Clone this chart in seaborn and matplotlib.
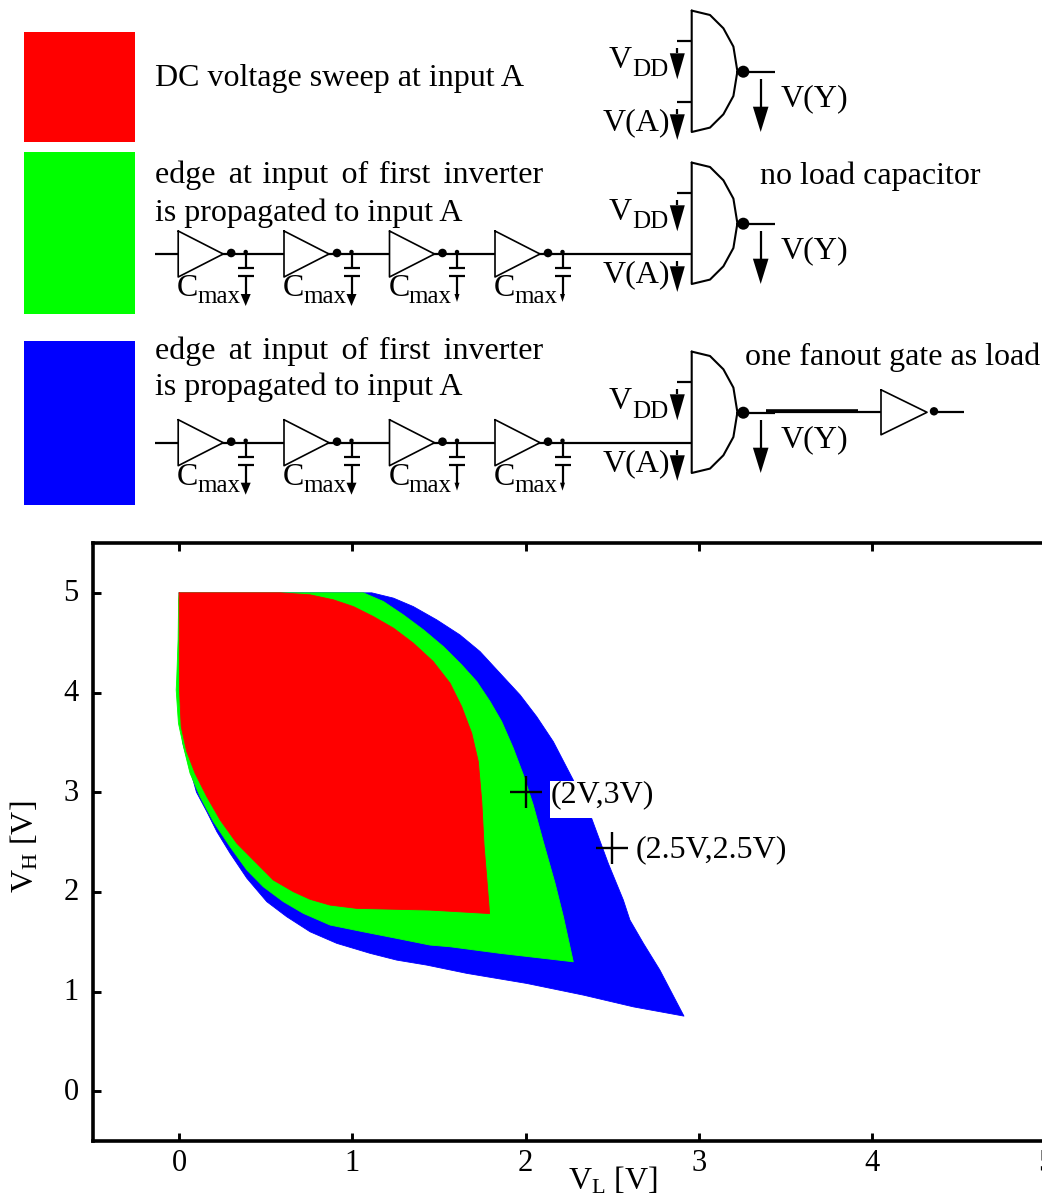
import matplotlib
matplotlib.use("Agg")
import numpy as np
import seaborn as sns
import matplotlib.pyplot as plt
from matplotlib.transforms import ScaledTranslation

# noise margin regions, V_L and V_H in volts, walked round the outline
red_vl = [0.0, 0.30, 0.583, 0.756, 0.89, 1.006, 1.121, 1.237, 1.352, 1.467, 1.564, 1.631, 1.689,
          1.727, 1.747, 1.76, 1.779, 1.792,
          1.448, 1.198, 1.025, 0.871, 0.756, 0.66, 0.544, 0.429, 0.333, 0.237, 0.16, 0.092,
          0.044, 0.012, 0.002]
red_vh = [5.0, 5.0, 5.0, 4.98, 4.93, 4.862, 4.762, 4.646, 4.495, 4.31, 4.093, 3.858, 3.591,
          3.306, 2.905, 2.47, 2.068, 1.782,
          1.817, 1.827, 1.834, 1.867, 1.925, 2.001, 2.118, 2.319, 2.487, 2.721, 2.955, 3.19,
          3.407, 3.658, 4.026]

green_vl = [0.0, 1.063, 1.179, 1.294, 1.41, 1.525, 1.631, 1.718, 1.795, 1.862, 1.929, 1.987, 2.044,
            2.102, 2.17, 2.218, 2.275,
            1.852, 1.564, 1.448, 1.256, 1.063, 0.871, 0.717, 0.602, 0.486, 0.391, 0.294, 0.198,
            0.121, 0.063, 0.025, -0.004, -0.017, -0.014, -0.006, -0.003]
green_vh = [5.0, 5.0, 4.913, 4.779, 4.629, 4.461, 4.277, 4.11, 3.909, 3.708, 3.441, 3.173, 2.871,
            2.503, 2.085, 1.75, 1.298,
            1.383, 1.449, 1.466, 1.533, 1.599, 1.667, 1.784, 1.901, 2.051, 2.219, 2.453, 2.704,
            2.955, 3.19, 3.457, 3.692, 4.026, 4.13, 4.53, 4.93]

blue_vl = [0.0, 1.112, 1.237, 1.352, 1.487, 1.621, 1.737, 1.852, 1.968, 2.064, 2.16, 2.275, 2.381,
           2.477, 2.564, 2.602, 2.68, 2.775, 2.914,
           2.622, 2.333, 2.006, 1.66, 1.429, 1.256, 1.102, 0.91, 0.756, 0.621, 0.506, 0.391,
           0.294, 0.218, 0.16, 0.10, 0.02]
blue_vh = [5.0, 5.0, 4.947, 4.862, 4.729, 4.578, 4.411, 4.194, 3.976, 3.758, 3.507, 3.122, 2.738,
           2.286, 1.918, 1.717, 1.483, 1.215, 0.753,
           0.846, 0.964, 1.081, 1.182, 1.265, 1.315, 1.383, 1.483, 1.599, 1.75, 1.901, 2.136,
           2.387, 2.603, 2.804, 3.0, 3.5]

point_vl = [2.0, 2.5]
point_vh = [3.0, 2.44]
point_labels = ["(2V,3V)", "(2.5V,2.5V)"]
tick_values = [0, 1, 2, 3, 4, 5]

SERIF = "Liberation Serif"
FS = 23
SUB_FS = 18

sns.set_theme(style="ticks", font=SERIF)
plt.rcParams["font.family"] = [SERIF, "DejaVu Serif"]
plt.rcParams["mathtext.fontset"] = "custom"
plt.rcParams["mathtext.rm"] = SERIF
plt.rcParams["mathtext.it"] = SERIF
for key in ["text.color", "axes.labelcolor", "xtick.color", "ytick.color"]:
    plt.rcParams[key] = "black"

W, H = 1042, 1196


def draw_region(ax, vl, vh, color):
    ax.fill(vl, vh, color=color, lw=0, zorder=2)
    sns.lineplot(x=vl + vl[:1], y=vh + vh[:1], sort=False, estimator=None,
                 color=color, lw=0.6, ax=ax, legend=False, zorder=2)


# overlay axes in pixels for the schematic on top of the chart
def line(ax, xs, ys, lw=1.6):
    ax.plot(xs, ys, color="black", lw=lw, solid_capstyle="butt")


def arrow(ax, x, y0, y1, y2, half):
    # stem from y0 to y1, head from y1 to tip y2
    line(ax, [x, x], [y0, y1])
    ax.fill([x - half, x + half, x], [y1, y1, y2], color="black", lw=0)


def dot(ax, x, y, r):
    ax.add_patch(plt.Circle((x, y), r, color="black", lw=0))


def sub_text(ax, x, y, main, sub, sub_dx, sub_dy=8):
    ax.text(x, y, main, fontsize=FS, ha="left", va="baseline")
    ax.text(x + sub_dx, y + sub_dy, sub, fontsize=SUB_FS, ha="left", va="baseline")


def inverter(ax, x, y):
    ax.plot([x, x + 46, x, x], [y - 22.5, y, y + 22.5, y - 22.5], color="black", lw=1.2)
    dot(ax, x + 53, y - 1, 4.2)


def gate(ax, off, input_wire):
    x0 = 691.7
    cy = 71.3 + off
    dx = [0, 18.3, 31.7, 41.7, 45.7, 41.7, 31.7, 18.3, 0, 0]
    dy = [-60.7, -56.3, -43, -24.7, 0, 24.7, 43, 56.3, 60.7, -60.7]
    ax.plot([x0 + d for d in dx], [cy + d for d in dy], color="black", lw=1.5)
    line(ax, [677.3, x0], [40.7 + off, 40.7 + off])
    arrow(ax, 677.3, 48 + off, 53.3 + off, 79.3 + off, 7.5)
    if not input_wire:
        line(ax, [677.3, x0], [101.7 + off, 101.7 + off])
    arrow(ax, 677.3, 109 + off, 114.3 + off, 140 + off, 7.5)
    dot(ax, 743.3, 71.7 + off, 6)
    line(ax, [736, 775], [71.7 + off, 71.7 + off])
    arrow(ax, 760.7, 79.3 + off, 106.7 + off, 132 + off, 7.8)
    ax.text(781, 106 + off, "V(Y)", fontsize=FS, va="baseline")
    sub_text(ax, 609, 68 + off, "V", "DD", 23, 8.5)
    ax.text(603, 130 + off, "V(A)", fontsize=FS, va="baseline")


def chain(ax, wire_y):
    line(ax, [155, 692], [wire_y, wire_y])
    for i, tx in enumerate([178.2, 284, 389.5, 495]):
        ax.fill([tx, tx + 45, tx], [wire_y - 23, wire_y, wire_y + 23], color="white", zorder=3, lw=0)
        ax.plot([tx, tx + 45, tx, tx], [wire_y - 23, wire_y, wire_y + 23, wire_y - 23],
                color="black", lw=1.2, zorder=4)
        dot(ax, tx + 53, wire_y - 1, 4.3)
        cx = tx + 67.5
        dot(ax, cx, wire_y - 2, 2.2)
        line(ax, [cx, cx], [wire_y, wire_y + 14])
        line(ax, [cx - 8, cx + 8], [wire_y + 14, wire_y + 14])
        line(ax, [cx - 8, cx + 8], [wire_y + 22, wire_y + 22])
        if i < 2:
            arrow(ax, cx, wire_y + 22, wire_y + 40, wire_y + 52, 5)
        else:
            arrow(ax, cx, wire_y + 22, wire_y + 40, wire_y + 48, 2.5)
        sub_text(ax, tx - 1, wire_y + 42, "C", "max", 20, 7)


fig = plt.figure(figsize=(W / 100, H / 100), dpi=100)

# chart axes reach past the right edge of the figure, the 5 tick gets cut like the original
ax = fig.add_axes([92.5 / W, (H - 1141) / H, 1039.5 / W, 598 / H])
draw_region(ax, blue_vl, blue_vh, "#0000ff")
draw_region(ax, green_vl, green_vh, "#00ff00")
draw_region(ax, red_vl, red_vh, "#ff0000")

ax.set_xlim(-0.5, 5.5)
ax.set_ylim(-0.5, 5.5)
ax.set_xticks(tick_values)
ax.set_yticks(tick_values)
ax.tick_params(direction="in", top=True, right=True, length=5.5, width=2.1, labelsize=22, pad=5.5)
ax.tick_params(axis="y", pad=10)
for lab in ax.get_yticklabels():
    lab.set_transform(lab.get_transform() + ScaledTranslation(0, 2.5 / 100, fig.dpi_scale_trans))
for s in ax.spines.values():
    s.set_linewidth(2.6)
    s.set_color("black")

ax.set_xlabel(r"V$_{\mathrm{L}}$ [V]", fontsize=FS)
ax.set_ylabel(r"V$_{\mathrm{H}}$ [V]", fontsize=FS)
ax.xaxis.label.set_verticalalignment("baseline")
ax.xaxis.set_label_coords((613 - 92.5) / 1039.5, (1141 - 1190) / 598)
ax.yaxis.set_label_coords((41 - 92.5) / 1039.5, (1141 - 847) / 598)

# white box that hides part of the blue region behind the first label
ax.add_patch(plt.Rectangle((2.141, 2.741), 0.6, 0.371, color="white", lw=0, zorder=4))
sns.scatterplot(x=point_vl, y=point_vh, marker="+", s=560, color="black",
                linewidth=1.7, ax=ax, legend=False, zorder=6)
ax.annotate(point_labels[0], (point_vl[0], point_vh[0]), xytext=(25, -10), textcoords="offset pixels",
            fontsize=FS, va="baseline", zorder=5)
ax.annotate(point_labels[1], (point_vl[1], point_vh[1]), xytext=(23.5, -9.5), textcoords="offset pixels",
            fontsize=FS, va="baseline", zorder=5)

top = fig.add_axes([0, 0, 1, 1], facecolor="none")
top.set_xlim(0, W)
top.set_ylim(H, 0)
top.axis("off")

top.fill_between([24, 135], 32, 142, color="#ff0000", lw=0)
top.fill_between([24, 135], 152, 314, color="#00ff00", lw=0)
top.fill_between([24, 135], 341, 505, color="#0000ff", lw=0)

top.text(155, 86, "DC voltage sweep at input A", fontsize=FS, va="baseline")
# hair spaces: the original line is set justified with wide word gaps
edge_text = "edge \u200a\u200aat \u200ainput \u200a\u200aof \u200afirst \u200a\u200ainverter"
for y, y2 in [(183, 221), (358.5, 394.5)]:
    top.text(155, y, edge_text, fontsize=FS, va="baseline")
    top.text(155, y2, "is propagated to input A", fontsize=FS, va="baseline")
top.text(760, 184, "no load capacitor", fontsize=FS, va="baseline")
top.text(745, 365.5, "one fanout gate as load", fontsize=FS, va="baseline")

gate(top, 0, False)
gate(top, 152, True)
gate(top, 341, True)
chain(top, 254)
chain(top, 442.7)

# fanout inverter on the third row
line(top, [766, 858], [411, 411], lw=2.6)
line(top, [775, 881], [412.3, 412.3])
inverter(top, 881, 412.3)
line(top, [934, 964], [412.3, 412.3])

fig.savefig("out.png", dpi=100)
